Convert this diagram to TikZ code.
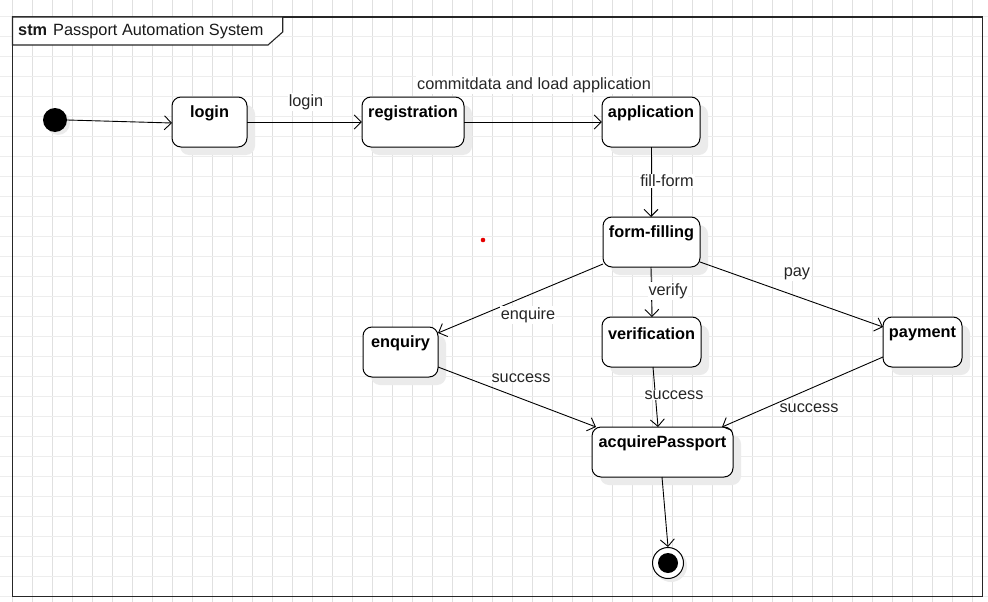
\documentclass[tikz,border=0pt]{standalone}
\usepackage{fontspec}
\setmainfont{Liberation Sans}
\usetikzlibrary{arrows.meta}
\begin{document}
\begin{tikzpicture}[x=1pt,y=-1pt,
  shadowbox/.style={fill=black!8, rounded corners=9pt, draw=none},
  edge/.style={draw=black, line width=0.9pt, -{Straight Barb[length=7pt,width=14pt,line width=0.9pt]}},
  elabel/.style={fill=white, inner sep=1pt, font=\fontsize{16.3}{18}\selectfont, text=black!85}
]
\useasboundingbox (0,0) rectangle (988,602);
\fill[white] (0,0) rectangle (988,602);
% grid
\foreach \gx in {0,...,48} {\draw[black!12, line width=0.8pt] (12.3+20*\gx,0) -- (12.3+20*\gx,602);}
\foreach \gy in {0,...,29} {\draw[black!7, line width=1.1pt] (0,16.7+20*\gy) -- (988,16.7+20*\gy);}
% frame
\draw[black!85, line width=1.4pt] (12.5,17) rectangle (982.3,596.7);
\draw[black!85, line width=1.1pt, fill=white] (12.5,17) -- (282.7,17) -- (282.7,32) -- (268,45) -- (12.5,45) -- cycle;
\node[anchor=west, inner sep=0pt, font=\fontsize{16.3}{18}\selectfont, text=black!90] (title) at (18,31) {\textbf{stm}\hspace{6pt}Passport Automation System};
% shadows
\foreach \xa/\ya/\xb/\yb in {172/97/247/147, 362/97/464/147, 602/97/700/147, 603/217/700/267, 363/327/438/377, 602/317/701/367, 883/317/962/367, 592/427/733/477} {
  \fill[shadowbox] (\xa+8,\ya+8) rectangle (\xb+8,\yb+8);
}
\fill[black!8] (671,566) circle (16);
\fill[black!8] (58,123) circle (12);
% states
\newcommand{\stbox}[6]{%
  \draw[black, line width=1pt, rounded corners=9pt, fill=white] (#2,#3) rectangle (#4,#5);
  \node[inner sep=0pt, minimum width={(#4-#2)*1pt}, minimum height={(#5-#3)*1pt}] (#1) at ({(#2+#4)/2},{(#3+#5)/2}) {};
  \node[font=\bfseries\fontsize{16.3}{18}\selectfont, inner sep=0pt, anchor=center] (#1-t) at ({(#2+#4)/2},{#3+16.5}) {#6};
}
\stbox{login}{172}{97}{247}{147}{login}
\stbox{registration}{362}{97}{464}{147}{registration}
\stbox{application}{602}{97}{700}{147}{application}
\stbox{formfilling}{603}{217}{700}{267}{form-filling}
\stbox{enquiry}{363}{327}{438}{377}{enquiry}
\stbox{verification}{602}{317}{701}{367}{verification}
\stbox{payment}{883}{317}{962}{367}{payment}
\stbox{acquire}{592}{427}{733}{477}{acquirePassport}
% initial and final
\node[circle, fill=black, minimum size=24pt, inner sep=0pt] (init) at (55,120) {};
\node[circle, draw=black, fill=white, line width=1pt, minimum size=31pt, inner sep=0pt] (final) at (668,563) {};
\node[circle, fill=black, minimum size=20pt, inner sep=0pt] (finaldot) at (668,563) {};
% red dot
\fill[red!90!black] (483,240) circle (2.3);
% edges
\draw[edge] (init.east) -- (172,123);
\draw[edge] (login.east |- 0,122) -- (registration.west |- 0,122);
\draw[edge] (registration.east |- 0,122) -- (application.west |- 0,122);
\draw[edge] (651,147) -- (651,217);
\draw[edge] (603,264) -- (438,333);
\draw[edge] (651,267) -- (652,317);
\draw[edge] (700,262) -- (883,327);
\draw[edge] (438,367) -- (596,427);
\draw[edge] (653,367) -- (658,427);
\draw[edge] (883,357) -- (722,427);
\draw[edge] (662,477) -- (final.north);
% labels
\node[elabel] (l1) at (306,102) {login};
\node[elabel] (l2) at (534,85) {commitdata and load application};
\node[elabel] (l3) at (667,181) {fill-form};
\node[elabel] (l4) at (528,315) {enquire};
\node[elabel] (l5) at (668,291) {verify};
\node[elabel] (l6) at (797,274) {pay};
\node[elabel] (l7) at (521,378) {success};
\node[elabel] (l8) at (674,395) {success};
\node[elabel] (l9) at (809,408) {success};
\end{tikzpicture}
\end{document}
